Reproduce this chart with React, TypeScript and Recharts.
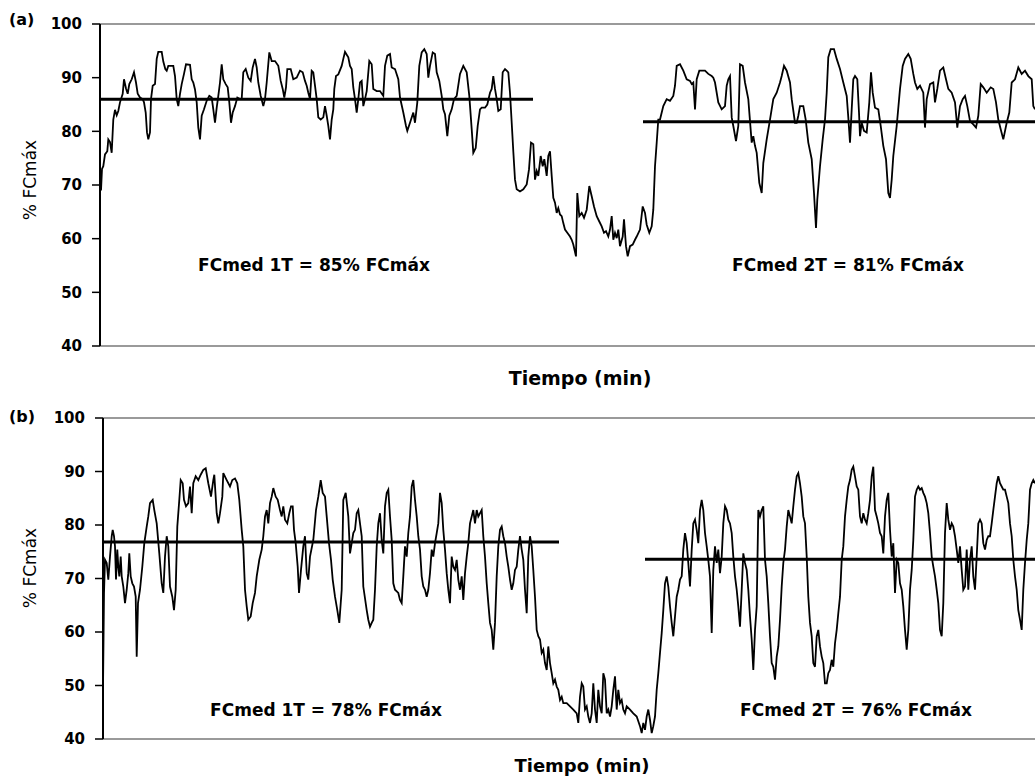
import React from 'react';
import { LineChart, Line, XAxis, YAxis, ReferenceLine } from 'recharts';

// % FCmáx over time (min). [minute, value]
const firstHalfA: [number, number][] = [
  [0, 72], [0.1, 69], [0.2, 73], [0.33, 73.5], [0.5, 75.7], [0.73, 76.3], [0.83, 78.5], [1.0, 78],
  [1.17, 76], [1.33, 82.2], [1.5, 84], [1.67, 83], [1.83, 83.8], [2.0, 85.4], [2.27, 87], [2.4, 89.7],
  [2.6, 88], [2.77, 87], [2.93, 88.8], [3.17, 89.7], [3.4, 91], [3.6, 89.1], [3.77, 87], [4.0, 86.3],
  [4.27, 86], [4.4, 85.4], [4.57, 83.5], [4.7, 79.8], [4.83, 78.5], [5.0, 79.8], [5.1, 86], [5.27, 88.5],
  [5.5, 88.8], [5.67, 93.5], [5.83, 94.8], [6.17, 94.8], [6.33, 93], [6.53, 91.6], [6.67, 91.3], [6.83, 92.2],
  [7.33, 92.2], [7.5, 90.3], [7.67, 86], [7.83, 84.7], [8.0, 87], [8.17, 88.8], [8.4, 90.7], [8.6, 92.5],
  [9.0, 92.4], [9.17, 89.7], [9.33, 89.1], [9.5, 87.8], [9.67, 85.4], [9.83, 80.7], [10.0, 78.5], [10.17, 82.9],
  [10.4, 84.1], [10.67, 85.7], [10.93, 86.6], [11.17, 86.3], [11.33, 84.1], [11.5, 81.6], [11.67, 84.4], [11.83, 86.6],
  [12.0, 89.1], [12.17, 92.5], [12.33, 89.7], [12.57, 88.8], [12.77, 88.2], [12.93, 85.4], [13.1, 81.6], [13.27, 83.5],
  [13.5, 84.7], [13.73, 86.3], [14.0, 86], [14.17, 86], [14.33, 91], [14.57, 91.6], [14.83, 90], [15.07, 89.4],
  [15.27, 91.9], [15.5, 93.5], [15.67, 91.9], [15.83, 89.1], [16.07, 86.6], [16.33, 84.7], [16.5, 86], [16.67, 89.1],
  [16.93, 94.7], [17.17, 93.1], [17.5, 93.1], [17.83, 92.2], [18.07, 89.4], [18.27, 87.9], [18.43, 86.3], [18.6, 88.2],
  [18.73, 91.6], [19.07, 91.6], [19.33, 89.7], [19.67, 90], [20.0, 91.3], [20.27, 91], [20.5, 89.4], [20.67, 88.5],
  [20.83, 87.2], [21.0, 86], [21.17, 91.3], [21.33, 91], [21.5, 88.5], [21.67, 86], [21.83, 82.6], [22.07, 82.2],
  [22.33, 82.6], [22.5, 84.7], [22.67, 82.9], [22.83, 81], [23.0, 78.5], [23.17, 82.2], [23.33, 84.1], [23.43, 87.9],
  [23.6, 90.3], [23.83, 90.6], [24.17, 92.2], [24.33, 93.5], [24.5, 94.8], [24.83, 93.8], [25.0, 92.2], [25.17, 91.6],
  [25.33, 88.2], [25.5, 86], [25.67, 83.5], [25.83, 86], [26.0, 89.1], [26.17, 89.4], [26.33, 84.7], [26.5, 86],
  [26.67, 87.5], [26.93, 93.1], [27.17, 92.5], [27.33, 87.9], [27.67, 87.5], [28.0, 87.5], [28.33, 86.6], [28.5, 92.2],
  [28.73, 94.1], [29.0, 94.4], [29.17, 91.9], [29.5, 91.6], [29.83, 89.7], [30.0, 86.3], [30.33, 83.5], [30.6, 81],
  [30.73, 80.1], [31.0, 81.6], [31.33, 83.5], [31.5, 81.6], [31.73, 85.4], [31.93, 92.2], [32.17, 94.7], [32.43, 95.3],
  [32.67, 94.4], [32.83, 90], [33.0, 92.2], [33.27, 94.7], [33.5, 94.4], [33.67, 91], [33.93, 89.4], [34.17, 86.6],
  [34.33, 84.1], [34.5, 83.2], [34.73, 79.1], [34.93, 82.9], [35.17, 84.1], [35.4, 86], [35.67, 86.6], [36.0, 90.7],
  [36.33, 92.2], [36.67, 91], [36.93, 86.6], [37.17, 80.4], [37.33, 76], [37.57, 76.9], [37.77, 81], [38.0, 84.1],
  [38.17, 84.4], [38.5, 84.4], [38.73, 85], [39.0, 87.2], [39.17, 87.9], [39.33, 90.3], [39.5, 87.9], [39.67, 86],
  [39.83, 83.8], [40.07, 84.1], [40.27, 91], [40.5, 91.6], [40.67, 91.3], [40.83, 91], [41.0, 87.2],
];

const breakA: [number, number][] = [
  [41.17, 81.6], [41.33, 76.3], [41.5, 71], [41.67, 69.2], [42.0, 68.8], [42.33, 69.2], [42.67, 70.1], [42.9, 72.9],
  [43.1, 77.9], [43.33, 77.6], [43.5, 71], [43.67, 72.6], [43.83, 71.7], [44.07, 75.4], [44.27, 73.5], [44.43, 74.8],
  [44.67, 71.7], [44.83, 75.4], [45.0, 76.3], [45.17, 71.7], [45.33, 67.6], [45.5, 66.7], [45.67, 64.8], [45.83, 65.7],
  [46.0, 64.5], [46.17, 64.2], [46.33, 62.9], [46.5, 61.7], [46.73, 61.1], [47.0, 60.4], [47.17, 59.8], [47.33, 58.9],
  [47.6, 56.7], [47.73, 68.5], [47.93, 64.2], [48.17, 64.8], [48.4, 63.9], [48.67, 65.4], [48.93, 69.8], [49.17, 67.9],
  [49.4, 66], [49.67, 64.2], [49.93, 63.2], [50.17, 62.3], [50.4, 61.1], [50.6, 61.4], [50.83, 60.4], [51.0, 61.7],
  [51.17, 64.2], [51.33, 59.8], [51.5, 61.1], [51.67, 60.1], [51.83, 61.7], [52.0, 58.6], [52.27, 60.4], [52.4, 63.6],
  [52.6, 58.6], [52.77, 56.7], [53.0, 58.6], [53.27, 58.9], [53.5, 59.8], [53.67, 60.4], [54.0, 61.7], [54.27, 66],
  [54.5, 64.8], [54.67, 62.6], [54.93, 61.1], [55.17, 62.3], [55.33, 65.4],
];

const secondHalfA: [number, number][] = [
  [55.5, 73.5], [55.67, 77.9], [55.83, 82.2], [56.0, 82.2], [56.33, 84.7], [56.67, 86], [57.0, 85.7], [57.33, 86.6],
  [57.5, 88.5], [57.67, 92.2], [58.0, 92.5], [58.33, 91.3], [58.67, 89.7], [59.0, 89.4], [59.17, 88.8], [59.33, 89.1],
  [59.5, 84.1], [59.67, 89.7], [59.93, 91.3], [60.17, 91.3], [60.5, 91.3], [60.83, 90.7], [61.17, 90.3], [61.33, 90],
  [61.5, 89.1], [61.83, 85.4], [62.17, 84.1], [62.5, 84.7], [62.67, 88.5], [62.83, 89.7], [63.0, 90.3], [63.17, 82.6],
  [63.33, 81], [63.6, 78.2], [63.83, 81], [64.0, 92.5], [64.27, 92.2], [64.5, 89.1], [64.83, 86], [65.0, 81.9],
  [65.17, 77.9], [65.33, 79.1], [65.5, 77.3], [65.67, 76], [65.93, 70.4], [66.17, 68.5], [66.33, 74.1], [66.67, 78.5],
  [67.0, 82.2], [67.33, 86], [67.67, 87.2], [68.0, 89.1], [68.17, 90.3], [68.4, 92.2], [68.67, 91.3], [69.0, 89.1],
  [69.17, 86], [69.5, 81.6], [69.67, 81.6], [69.83, 82.9], [70.0, 84.7], [70.33, 84.7], [70.57, 82.2], [70.83, 77.9],
  [71.17, 74.8], [71.4, 68.5], [71.6, 62], [71.73, 67.3], [72.0, 73.5], [72.27, 78.5], [72.5, 82.2], [72.67, 87.2],
  [72.83, 93.8], [73.07, 95.3], [73.4, 95.3], [73.67, 93.5], [74.0, 91.6], [74.33, 89.1], [74.67, 86.6], [74.83, 82.6],
  [75.0, 77.9], [75.17, 84.1], [75.33, 89.7], [75.5, 90.3], [75.73, 89.7], [75.9, 83.5], [76.0, 79.1], [76.17, 81.6],
  [76.4, 80.1], [76.67, 79.8], [76.93, 85.4], [77.1, 91], [77.27, 87.2], [77.5, 84.4], [77.83, 84.1], [78.07, 81],
  [78.33, 77.3], [78.6, 74.8], [78.83, 68.5], [79.0, 67.6], [79.17, 71], [79.33, 75.4], [79.67, 81], [80.0, 87.9],
  [80.27, 92.2], [80.5, 93.5], [80.83, 94.4], [81.07, 93.5], [81.33, 90.7], [81.5, 89.1], [81.73, 87.9], [82.0, 88.5],
  [82.33, 87.2], [82.5, 80.7], [82.67, 86], [83.0, 88.8], [83.33, 89.1], [83.5, 85.4], [83.73, 87.9], [84.0, 91.3],
  [84.33, 91.9], [84.6, 89.7], [84.83, 87.9], [85.17, 87.2], [85.5, 85.4], [85.73, 80.7], [86.0, 84.7], [86.27, 86],
  [86.5, 86.6], [86.73, 84.7], [87.0, 81.9], [87.33, 81.3], [87.6, 80.7], [87.83, 82.9], [88.07, 88.8], [88.33, 88.2],
  [88.67, 87.2], [89.07, 88.2], [89.33, 87.9], [89.6, 85.4], [89.83, 82.2], [90.07, 80.4], [90.33, 78.5], [90.67, 81.6],
  [90.93, 83.5], [91.17, 89.1], [91.5, 89.7], [91.83, 91.9], [92.17, 90.7], [92.5, 91.3], [92.83, 90.3], [93.17, 89.7],
  [93.33, 84.7], [93.5, 84.1],
];

const firstHalfB: [number, number][] = [
  [0, 49.5], [0.1, 67.3], [0.2, 73.5], [0.37, 72.9], [0.53, 69.8], [0.7, 74.1], [0.87, 77.9], [0.97, 79.1],
  [1.1, 77.9], [1.2, 76], [1.3, 69.8], [1.43, 75.4], [1.53, 72.2], [1.63, 70.4], [1.77, 74.1], [1.87, 70.4],
  [2.03, 68.5], [2.2, 65.4], [2.37, 67.9], [2.53, 71], [2.63, 74.7], [2.77, 70.4], [2.93, 69.1], [3.1, 68.5],
  [3.27, 66.6], [3.37, 55.4], [3.5, 65.4], [3.7, 67.9], [3.93, 72.2], [4.13, 76.6], [4.37, 79.7], [4.53, 81.6],
  [4.7, 84.1], [4.97, 84.7], [5.13, 82.8], [5.37, 80.3], [5.63, 74.7], [5.87, 69.1], [6.03, 67.3], [6.2, 74.1],
  [6.37, 77.9], [6.53, 76], [6.7, 68.5], [6.93, 66.6], [7.1, 64.1], [7.27, 67.9], [7.43, 79.7], [7.63, 84.7],
  [7.77, 88.4], [7.97, 87.8], [8.1, 84.7], [8.3, 83.5], [8.53, 84.1], [8.7, 87.2], [8.87, 82.2], [9.03, 87.8],
  [9.27, 89.1], [9.53, 88.4], [9.77, 89.4], [10.03, 90.3], [10.27, 90.6], [10.53, 87.8], [10.8, 85.3], [11.03, 88.4],
  [11.13, 89.4], [11.37, 82.2], [11.53, 80.3], [11.7, 82.2], [11.93, 85.3], [12.03, 89.7], [12.37, 88.4], [12.7, 87.2],
  [12.93, 88.4], [13.2, 88.7], [13.43, 87.8], [13.63, 84.7], [13.87, 79.1], [14.03, 76], [14.2, 67.9], [14.37, 64.8],
  [14.53, 62.3], [14.77, 62.9], [14.97, 65.4], [15.2, 67.3], [15.37, 70.4], [15.63, 73.5], [15.87, 75.4], [16.03, 77.9],
  [16.2, 81.6], [16.37, 82.8], [16.53, 80.3], [16.7, 84.1], [16.87, 85.3], [17.03, 86.9], [17.27, 85.3], [17.47, 84.7],
  [17.7, 82.8], [17.87, 81.6], [18.03, 83.5], [18.2, 81], [18.43, 80.3], [18.63, 82.2], [18.8, 83.5], [18.97, 83.5],
  [19.1, 79.1], [19.27, 76.6], [19.47, 72.2], [19.6, 67.3], [19.8, 71.6], [20.03, 76], [20.2, 77.9], [20.37, 71],
  [20.53, 69.8], [20.7, 74.1], [21.03, 77.2], [21.3, 82.8], [21.53, 85.3], [21.77, 88.4], [21.97, 86], [22.2, 85.3],
  [22.37, 81.6], [22.6, 76.6], [22.8, 73.5], [22.97, 69.8], [23.2, 66.6], [23.43, 64.1], [23.63, 61.7], [23.87, 67.9],
  [24.03, 84.7], [24.27, 86], [24.53, 81.6], [24.7, 74.7], [24.87, 76.6], [25.03, 78.5], [25.2, 79.1], [25.37, 82.2],
  [25.53, 82.8], [25.7, 80.3], [25.87, 77.9], [26.03, 68.5], [26.37, 64.1], [26.53, 62.3], [26.7, 61], [26.87, 61.7],
  [27.03, 62.3], [27.2, 67.9], [27.37, 76], [27.53, 80.3], [27.7, 82.2], [27.87, 77.2], [28.03, 74.7], [28.2, 83.5],
  [28.37, 86], [28.53, 86.6], [28.7, 81.6], [28.87, 77.2], [29.03, 69.1], [29.2, 67.9], [29.53, 67.3], [29.7, 66],
  [29.87, 65.4], [30.03, 70.4], [30.2, 76], [30.37, 74.1], [30.53, 78.5], [30.7, 81.6], [30.87, 87.2], [31.03, 88.4],
  [31.2, 84.7], [31.37, 81.6], [31.53, 77.9], [31.7, 75.4], [31.87, 70.4], [32.03, 68.5], [32.2, 67.9], [32.37, 66.6],
  [32.53, 67.9], [32.7, 71], [32.87, 75.4], [33.03, 74.1], [33.2, 76.6], [33.37, 78.5], [33.53, 80.3], [33.7, 86],
  [33.87, 84.1], [34.03, 79.1], [34.2, 75.4], [34.37, 71], [34.53, 67.9], [34.7, 65.4], [34.87, 74.1], [35.03, 72.2],
  [35.2, 71.6], [35.37, 73.5], [35.53, 69.8], [35.7, 67.9], [35.87, 70.4], [36.03, 66], [36.2, 71], [36.37, 74.1],
  [36.53, 76.6], [36.7, 80.3], [36.87, 81.6], [37.03, 82.8], [37.2, 80.3], [37.37, 82.8], [37.53, 81.6], [37.87, 82.8],
  [38.03, 77.9], [38.2, 74.1], [38.37, 69.1], [38.53, 65.4], [38.7, 61.7], [38.87, 60.4], [39.03, 56.7], [39.2, 61.7],
  [39.37, 70.4], [39.53, 76], [39.7, 79.1], [39.87, 79.7], [40.03, 77.9], [40.2, 76.6], [40.37, 74.1], [40.53, 72.2],
  [40.7, 69.8], [40.87, 67.9], [41.03, 69.1], [41.2, 71.6], [41.37, 72.2], [41.53, 75.4], [41.7, 77.9], [41.87, 75.4],
  [42.03, 73.5], [42.2, 67.9], [42.37, 63.5], [42.53, 74.1], [42.7, 77.9], [42.87, 76],
];

const breakB: [number, number][] = [
  [43.03, 71.6], [43.2, 66.6], [43.37, 60.4], [43.53, 59.2], [43.7, 58.6], [43.87, 56.1], [44.03, 56.7], [44.2, 54.2],
  [44.37, 52.9], [44.53, 57.3], [44.7, 54.2], [44.87, 52.3], [45.03, 50.4], [45.2, 51.1], [45.37, 49.8], [45.53, 49.2],
  [45.7, 47.3], [45.87, 47.9], [46.03, 46.7], [46.37, 46.7], [46.7, 46.1], [47.03, 45.5], [47.37, 44.8], [47.53, 43],
  [47.7, 47.9], [47.87, 50.4], [48.03, 49.8], [48.2, 45.5], [48.37, 46.1], [48.53, 44.2], [48.7, 43], [48.87, 44.8],
  [49.03, 50.4], [49.2, 45.5], [49.37, 43], [49.53, 49.2], [49.7, 46.1], [49.87, 44.8], [50.03, 52.3], [50.2, 51.1],
  [50.37, 44.8], [50.53, 45.5], [50.7, 44.2], [50.87, 46.1], [51.03, 49.2], [51.2, 51.7], [51.37, 45.5], [51.53, 49.2],
  [51.7, 46.7], [51.87, 47.3], [52.03, 45.5], [52.2, 44.8], [52.37, 46.1], [52.7, 45.5], [53.03, 44.8], [53.37, 44.2],
  [53.7, 42.4], [53.87, 41.1], [54.03, 43], [54.2, 41.7], [54.37, 44.2], [54.53, 45.5], [54.7, 43.6], [54.87, 41.1],
  [55.03, 42.4], [55.2, 44.2],
];

const secondHalfB: [number, number][] = [
  [55.37, 49.2], [55.53, 52.3], [55.7, 56.1], [55.87, 59.8], [56.03, 64.1], [56.2, 69.1], [56.37, 70.4], [56.53, 68.5],
  [56.7, 64.8], [56.87, 61.7], [57.03, 59.2], [57.2, 62.9], [57.37, 66.6], [57.53, 67.9], [57.7, 69.8], [57.87, 70.4],
  [58.03, 75.4], [58.2, 78.5], [58.37, 76.6], [58.53, 72.9], [58.7, 68.5], [58.87, 75.4], [59.03, 80.3], [59.2, 81],
  [59.37, 79.1], [59.53, 76.6], [59.7, 82.8], [59.87, 84.7], [60.03, 82.8], [60.2, 78.5], [60.37, 76], [60.53, 73.5],
  [60.7, 70.4], [60.87, 59.8], [61.03, 71.6], [61.2, 76], [61.37, 72.9], [61.53, 75.4], [61.7, 71], [61.87, 74.1],
  [62.03, 80.3], [62.2, 83.5], [62.37, 82.8], [62.53, 81], [62.7, 80.3], [62.87, 78.5], [63.03, 74.1], [63.2, 70.4],
  [63.37, 67.9], [63.53, 64.8], [63.7, 61], [63.87, 67.9], [64.03, 74.7], [64.2, 72.9], [64.37, 71.6], [64.53, 67.9],
  [64.7, 62.9], [64.87, 58.6], [65.03, 52.9], [65.2, 60.4], [65.37, 64.8], [65.53, 82.8], [65.7, 81.6], [65.87, 82.8],
  [66.03, 83.5], [66.2, 73.5], [66.37, 70.4], [66.53, 65.4], [66.7, 59.2], [66.87, 54.2], [67.03, 53.5], [67.2, 51.1],
  [67.37, 55.4], [67.53, 57.3], [67.7, 62.3], [67.87, 68.5], [68.03, 72.9], [68.2, 75.4], [68.37, 79.7], [68.53, 82.8],
  [68.7, 81.6], [68.87, 80.3], [69.03, 83.5], [69.2, 86.6], [69.37, 89.1], [69.53, 89.7], [69.7, 87.8], [69.87, 85.3],
  [70.03, 81.6], [70.2, 80.3], [70.37, 74.1], [70.53, 66.6], [70.7, 61.7], [70.87, 59.2], [71.03, 54.2], [71.2, 53.5],
  [71.37, 59.2], [71.53, 60.4], [71.7, 57.3], [71.87, 55.4], [72.03, 54.2], [72.2, 50.4], [72.37, 50.4], [72.53, 52.3],
  [72.7, 52.9], [72.87, 54.8], [73.03, 53.5], [73.2, 57.9], [73.37, 60.4], [73.53, 63.5], [73.7, 66.6], [73.87, 73.5],
  [74.03, 76], [74.2, 81.6], [74.37, 84.7], [74.53, 87.2], [74.7, 88.4], [74.87, 90.3], [75.03, 90.9], [75.2, 89.1],
  [75.37, 87.2], [75.53, 86.6], [75.7, 81.6], [75.87, 80.3], [76.03, 82.2], [76.2, 81], [76.37, 80.3], [76.53, 82.2],
  [76.7, 84.7], [76.87, 89.1], [77.03, 90.9], [77.2, 82.8], [77.37, 81.6], [77.53, 80.3], [77.7, 78.5], [77.87, 77.9],
  [78.03, 74.7], [78.2, 81.6], [78.37, 84.7], [78.53, 86], [78.7, 79.1], [78.87, 74.1], [79.03, 76.6], [79.2, 67.3],
  [79.37, 73.5], [79.53, 72.9], [79.7, 69.1], [79.87, 67.9], [80.03, 64.8], [80.2, 60.4], [80.37, 56.7], [80.53, 60.4],
  [80.7, 67.9], [80.87, 71.6], [81.03, 77.2], [81.2, 85.3], [81.37, 86.6], [81.53, 87.2], [81.7, 86.6], [81.87, 86.9],
  [82.03, 86], [82.2, 85.3], [82.37, 84.1], [82.53, 82.2], [82.7, 78.5], [82.87, 74.1], [83.03, 72.2], [83.2, 70.4],
  [83.37, 67.9], [83.53, 65.4], [83.7, 60.4], [83.87, 59.2], [84.03, 65.4], [84.2, 78.5], [84.37, 84.1], [84.53, 81],
  [84.7, 79.1], [84.87, 80.3], [85.03, 79.7], [85.2, 77.9], [85.37, 75.4], [85.53, 72.9], [85.7, 76], [85.87, 71.6],
  [86.03, 67.9], [86.2, 68.5], [86.37, 75.4], [86.53, 67.9], [86.7, 73.5], [86.87, 76], [87.03, 70.4], [87.2, 67.9],
  [87.37, 74.1], [87.53, 80.3], [87.7, 81], [87.87, 80.3], [88.03, 76.6], [88.2, 75.4], [88.37, 77.2], [88.53, 77.9],
  [88.7, 77.9], [88.87, 80.3], [89.03, 82.8], [89.2, 85.3], [89.37, 87.8], [89.53, 89.1], [89.7, 87.8], [89.87, 87.2],
  [90.03, 86.6], [90.2, 86.6], [90.37, 85.3], [90.53, 84.1], [90.7, 80.3], [90.87, 77.9], [91.03, 73.5], [91.2, 70.4],
  [91.37, 67.9], [91.53, 64.1], [91.7, 62.3], [91.87, 60.4], [92.03, 67.9], [92.2, 72.9], [92.37, 77.2], [92.53, 80.3],
  [92.7, 86.6], [92.87, 87.8], [93.03, 88.4], [93.2, 87.8],
];

// mean HR per half: [from minute, to minute, value]
const meansA: [number, number, number][] = [[0, 43.3, 86], [54.3, 93.5, 81.8]];
const meansB: [number, number, number][] = [[0, 45.6, 76.8], [54.2, 93.2, 73.6]];

const yTicks = [40, 50, 60, 70, 80, 90, 100];
const notesA = ['FCmed 1T = 85% FCmáx', 'FCmed 2T = 81% FCmáx'];
const notesB = ['FCmed 1T = 78% FCmáx', 'FCmed 2T = 76% FCmáx'];

const toRows = (parts: [number, number][][]) =>
  parts.flat().map(([t, v]) => ({ t, v }));

const dataA = toRows([firstHalfA, breakA, secondHalfA]);
const dataB = toRows([firstHalfB, breakB, secondHalfB]);

const bold: React.CSSProperties = {
  position: 'absolute',
  fontFamily: '"DejaVu Sans", sans-serif',
  fontWeight: 'bold',
  color: '#000',
  whiteSpace: 'nowrap',
  lineHeight: 1,
};

function Note({ x, y, size, children }: { x: number; y: number; size: number; children: React.ReactNode }) {
  return (
    <div style={{ ...bold, left: x, top: y, fontSize: size, transform: 'translate(-50%, -50%)' }}>
      {children}
    </div>
  );
}

function YLabel({ x, y }: { x: number; y: number }) {
  return (
    <div
      style={{
        ...bold,
        fontWeight: 'normal',
        fontSize: 17,
        left: x,
        top: y,
        transform: 'translate(-50%, -50%) rotate(-90deg)',
      }}
    >
      % FCmáx
    </div>
  );
}

interface PanelProps {
  data: { t: number; v: number }[];
  means: [number, number, number][];
  height: number;
  top: number;
  bottom: number;
  axisWidth: number;
  xMax: number;
}

function Panel({ data, means, height, top, bottom, axisWidth, xMax }: PanelProps) {
  return (
    <LineChart width={1035} height={height} data={data} margin={{ top, right: 0, bottom, left: 0 }}>
      <XAxis
        dataKey="t"
        type="number"
        domain={[0, xMax]}
        allowDataOverflow
        tick={false}
        tickLine={false}
        height={30}
        axisLine={{ stroke: '#9a9a9a', strokeWidth: 2 }}
      />
      <YAxis
        domain={[40, 100]}
        ticks={yTicks}
        interval={0}
        width={axisWidth}
        tickSize={8}
        tickMargin={10}
        axisLine={{ stroke: '#000', strokeWidth: 2 }}
        tickLine={{ stroke: '#000', strokeWidth: 1.5 }}
        tick={{ fill: '#000', fontSize: 15, fontWeight: 'bold', fontFamily: '"DejaVu Sans", sans-serif' }}
      />
      <ReferenceLine y={100} stroke="#9a9a9a" strokeWidth={2} />
      <Line
        dataKey="v"
        type="linear"
        stroke="#000"
        strokeWidth={1.8}
        dot={false}
        isAnimationActive={false}
      />
      {means.map(([from, to, value], i) => (
        <ReferenceLine
          key={i}
          segment={[{ x: from, y: value }, { x: to, y: value }]}
          stroke="#000"
          strokeWidth={3}
        />
      ))}
    </LineChart>
  );
}

export default function App() {
  return (
    <div style={{ position: 'absolute', left: 0, top: 0, width: 1035, height: 778, overflow: 'hidden', background: '#fff' }}>
      <div style={{ position: 'absolute', left: 0, top: 0 }}>
        <Panel data={dataA} means={meansA} height={390} top={24} bottom={14} axisWidth={100} xMax={93.5} />
      </div>
      <div style={{ position: 'absolute', left: 0, top: 390 }}>
        <Panel data={dataB} means={meansB} height={388} top={28} bottom={9} axisWidth={103} xMax={93.2} />
      </div>

      <div style={{ ...bold, left: 9, top: 12, fontSize: 16 }}>(a)</div>
      <div style={{ ...bold, left: 9, top: 409, fontSize: 16 }}>(b)</div>

      <YLabel x={30} y={180} />
      <YLabel x={30} y={568} />

      <Note x={314} y={265} size={17}>{notesA[0]}</Note>
      <Note x={848} y={265} size={17}>{notesA[1]}</Note>
      <Note x={326} y={710} size={17}>{notesB[0]}</Note>
      <Note x={856} y={710} size={17}>{notesB[1]}</Note>

      <Note x={580} y={378} size={19}>Tiempo (min)</Note>
      <Note x={582} y={766} size={18}>Tiempo (min)</Note>
    </div>
  );
}
